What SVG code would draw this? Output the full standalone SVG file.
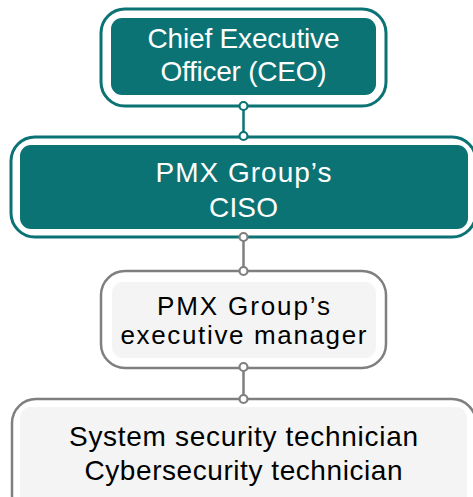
<svg xmlns="http://www.w3.org/2000/svg" width="473" height="497" viewBox="0 0 473 497">
<style>
.outerT{fill:#ffffff;stroke:#0b7373;stroke-width:3}
.innerT{fill:#0b7373}
.outerG{fill:#ffffff;stroke:#7f7f7f;stroke-width:2.5}
.innerG{fill:#f4f4f4}
.t{font-family:"Liberation Sans",Arial,sans-serif;font-size:28px;text-anchor:middle}
.s{font-size:26px}
.w{fill:#ffffff}
.k{fill:#000000}
.cT{stroke:#0b7373;stroke-width:2.5;fill:none}
.cG{stroke:#7f7f7f;stroke-width:2.5;fill:none}
.dT{fill:#ffffff;stroke:#0b7373;stroke-width:2.2}
.dG{fill:#ffffff;stroke:#7f7f7f;stroke-width:2.2}
</style>
<g id="ceo">
<rect class="outerT" x="101" y="9" width="285" height="97" rx="24"/>
<rect class="innerT" x="111" y="18" width="265" height="77" rx="11"/>
<text class="t w" x="243.5" y="48" textLength="192" lengthAdjust="spacing">Chief Executive</text>
<text class="t w" x="243.5" y="81" textLength="166" lengthAdjust="spacing">Officer (CEO)</text>
</g>
<g id="ciso">
<rect class="outerT" x="11" y="137" width="465" height="100" rx="24"/>
<rect class="innerT" x="20" y="145" width="448" height="84" rx="11"/>
<text class="t w" x="243.5" y="182" textLength="176" lengthAdjust="spacing">PMX Group’s</text>
<text class="t w" x="243.5" y="217" textLength="69" lengthAdjust="spacing">CISO</text>
</g>
<g id="exec">
<rect class="outerG" x="101" y="271" width="285" height="97" rx="24"/>
<rect class="innerG" x="112" y="282" width="264" height="76" rx="11"/>
<text class="t s k" x="243.5" y="315" textLength="173" lengthAdjust="spacing">PMX Group’s</text>
<text class="t s k" x="243.5" y="344" textLength="246" lengthAdjust="spacing">executive manager</text>
</g>
<g id="tech">
<rect class="outerG" x="12" y="399" width="464" height="120" rx="24"/>
<rect class="innerG" x="20" y="407" width="447" height="100" rx="11"/>
<text class="t k" x="243.5" y="446" textLength="349" lengthAdjust="spacing">System security technician</text>
<text class="t k" x="243.5" y="480" textLength="318" lengthAdjust="spacing">Cybersecurity technician</text>
</g>
<g id="connectors">
<line class="cT" x1="243.5" y1="106" x2="243.5" y2="137"/>
<circle class="dT" cx="243.5" cy="106" r="4"/>
<circle class="dT" cx="243.5" cy="136" r="4"/>
<line class="cG" x1="243.5" y1="237" x2="243.5" y2="271"/>
<circle class="dG" cx="243.5" cy="237" r="4"/>
<circle class="dG" cx="243.5" cy="271" r="4"/>
<line class="cG" x1="243.5" y1="367" x2="243.5" y2="399"/>
<circle class="dG" cx="243.5" cy="367" r="4"/>
<circle class="dG" cx="243.5" cy="399" r="4"/>
</g>
</svg>
